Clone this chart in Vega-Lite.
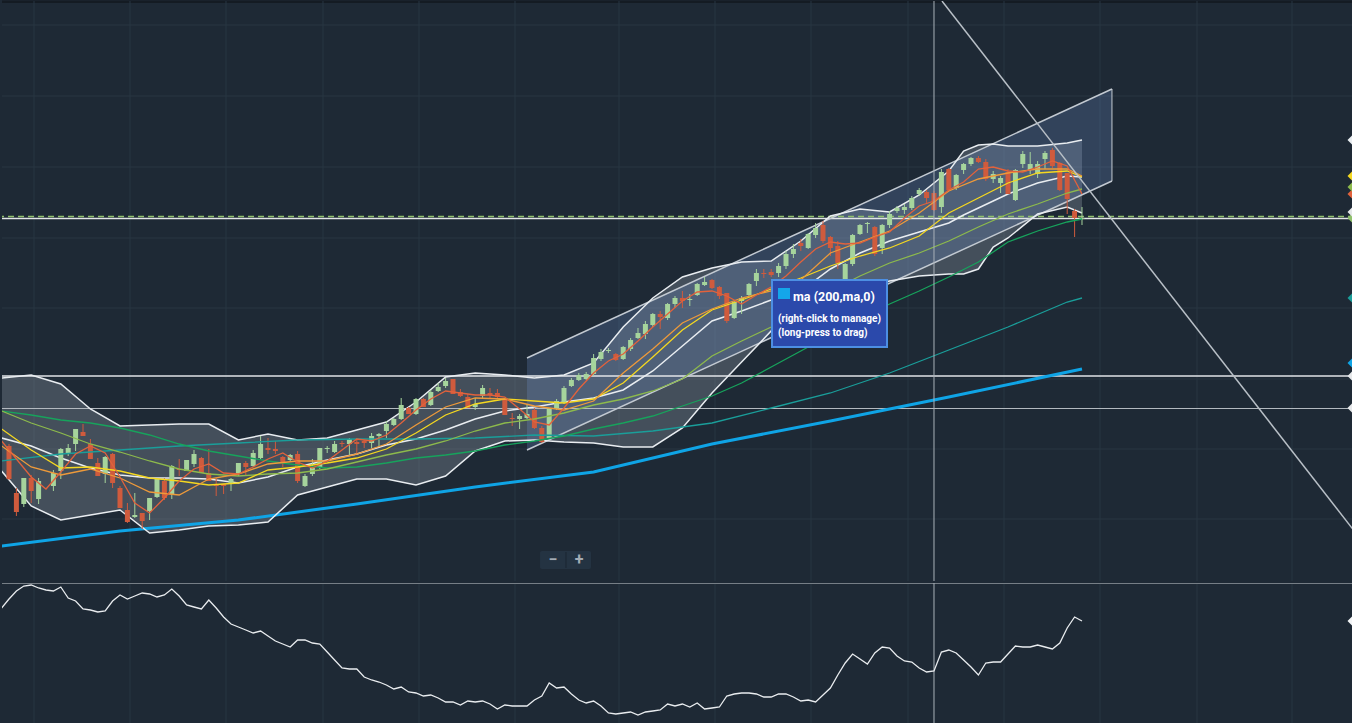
{
"$schema": "https://vega.github.io/schema/vega-lite/v6.json",
"background": "#1e2935",
"padding": 0,
"spacing": 0,
"config": {"view": {"stroke": null}, "scale": {"continuousPadding": 0}},
"datasets": {
"vgrid": [{"b":3.378},{"b":16.351},{"b":29.324},{"b":42.432},{"b":55.405},{"b":68.378},{"b":82.432},{"b":95.405},{"b":108.378},{"b":121.486},{"b":134.459},{"b":147.432},{"b":160.541},{"b":173.378}],
"hgrid": [{"p":576},{"p":505},{"p":434},{"p":363},{"p":293},{"p":222},{"p":152},{"p":82}],
"chan": [{"b":70,"lo":151,"up":243},{"b":149.05,"lo":420,"up":512}],
"bb": [
{"b":-1,"up":223,"mid":163,"lo":130},{"b":3,"up":226,"mid":155,"lo":95},{"b":7,"up":217,"mid":143,"lo":81},{"b":11,"up":192,"mid":133,"lo":86},{"b":15,"up":175,"mid":126,"lo":91},{"b":19,"up":176,"mid":123,"lo":68},{"b":23,"up":177,"mid":123,"lo":71},{"b":27,"up":177,"mid":122,"lo":75},{"b":31,"up":161,"mid":118,"lo":76},{"b":35,"up":167,"mid":124,"lo":79},{"b":39,"up":161,"mid":134,"lo":106},{"b":43,"up":163,"mid":141,"lo":114},{"b":47,"up":171,"mid":147,"lo":122},{"b":51,"up":179,"mid":156,"lo":122},{"b":55,"up":199,"mid":162,"lo":116},{"b":59,"up":224,"mid":171,"lo":125},{"b":63,"up":228,"mid":182,"lo":150},{"b":67,"up":226,"mid":190,"lo":160},{"b":71,"up":223,"mid":194,"lo":161},{"b":75,"up":226,"mid":199,"lo":159},{"b":79,"up":238,"mid":203,"lo":158},{"b":83,"up":274,"mid":211,"lo":154},{"b":87,"up":303,"mid":230,"lo":154},{"b":91,"up":324,"mid":255,"lo":173},{"b":95,"up":333,"mid":280,"lo":208},{"b":99,"up":339,"mid":290,"lo":239},{"b":103,"up":340,"mid":301,"lo":270},{"b":107,"up":360,"mid":310,"lo":283},{"b":111,"up":385,"mid":332,"lo":299},{"b":115,"up":392,"mid":348,"lo":311},{"b":119,"up":389,"mid":360,"lo":320},{"b":123,"up":406,"mid":369,"lo":325},{"b":127,"up":430,"mid":378,"lo":327},{"b":129,"up":450,"mid":386,"lo":327},{"b":131,"up":456,"mid":393,"lo":332},{"b":133,"up":457,"mid":400,"lo":354},{"b":135,"up":455,"mid":407,"lo":363},{"b":139,"up":455,"mid":418,"lo":387},{"b":143,"up":458,"mid":425,"lo":394},{"b":145,"up":461,"mid":424,"lo":388}],
"blue": [{"b":-1,"p":55},{"b":15,"p":70},{"b":31,"p":81},{"b":47,"p":97},{"b":63,"p":114},{"b":79,"p":129},{"b":95,"p":157},{"b":111,"p":180},{"b":127,"p":204},{"b":145,"p":232}],
"ma": [
{"s":"ma150","b":-1,"p":140},{"s":"ma150","b":7,"p":147},{"s":"ma150","b":15,"p":151},{"s":"ma150","b":23,"p":155},{"s":"ma150","b":31,"p":158},{"s":"ma150","b":39,"p":161},{"s":"ma150","b":47,"p":162},{"s":"ma150","b":55,"p":162},{"s":"ma150","b":63,"p":163},{"s":"ma150","b":71,"p":166},{"s":"ma150","b":79,"p":165},{"s":"ma150","b":87,"p":170},{"s":"ma150","b":95,"p":178},{"s":"ma150","b":103,"p":193},{"s":"ma150","b":111,"p":208},{"s":"ma150","b":119,"p":228},{"s":"ma150","b":127,"p":251},{"s":"ma150","b":135,"p":274},{"s":"ma150","b":143,"p":299},{"s":"ma150","b":145,"p":303},
{"s":"ma100","b":-1,"p":190},{"s":"ma100","b":3,"p":186},{"s":"ma100","b":7,"p":181},{"s":"ma100","b":11,"p":178},{"s":"ma100","b":15,"p":173},{"s":"ma100","b":19,"p":166},{"s":"ma100","b":23,"p":157},{"s":"ma100","b":27,"p":150},{"s":"ma100","b":31,"p":145},{"s":"ma100","b":35,"p":140},{"s":"ma100","b":39,"p":136},{"s":"ma100","b":43,"p":133},{"s":"ma100","b":47,"p":134},{"s":"ma100","b":51,"p":138},{"s":"ma100","b":55,"p":143},{"s":"ma100","b":59,"p":146},{"s":"ma100","b":63,"p":150},{"s":"ma100","b":67,"p":156},{"s":"ma100","b":71,"p":160},{"s":"ma100","b":75,"p":165},{"s":"ma100","b":79,"p":172},{"s":"ma100","b":83,"p":178},{"s":"ma100","b":87,"p":185},{"s":"ma100","b":91,"p":195},{"s":"ma100","b":95,"p":205},{"s":"ma100","b":99,"p":218},{"s":"ma100","b":103,"p":234},{"s":"ma100","b":107,"p":250},{"s":"ma100","b":111,"p":266},{"s":"ma100","b":115,"p":282},{"s":"ma100","b":119,"p":297},{"s":"ma100","b":123,"p":310},{"s":"ma100","b":127,"p":324},{"s":"ma100","b":131,"p":339},{"s":"ma100","b":135,"p":359},{"s":"ma100","b":139,"p":370},{"s":"ma100","b":143,"p":379},{"s":"ma100","b":145,"p":382},
{"s":"ma50","b":-1,"p":190},{"s":"ma50","b":3,"p":178},{"s":"ma50","b":7,"p":168},{"s":"ma50","b":11,"p":157},{"s":"ma50","b":15,"p":149},{"s":"ma50","b":19,"p":140},{"s":"ma50","b":23,"p":132},{"s":"ma50","b":27,"p":127},{"s":"ma50","b":31,"p":125},{"s":"ma50","b":35,"p":127},{"s":"ma50","b":39,"p":128},{"s":"ma50","b":43,"p":132},{"s":"ma50","b":47,"p":139},{"s":"ma50","b":51,"p":146},{"s":"ma50","b":55,"p":152},{"s":"ma50","b":59,"p":160},{"s":"ma50","b":63,"p":170},{"s":"ma50","b":67,"p":178},{"s":"ma50","b":71,"p":182},{"s":"ma50","b":75,"p":188},{"s":"ma50","b":79,"p":196},{"s":"ma50","b":83,"p":202},{"s":"ma50","b":87,"p":210},{"s":"ma50","b":91,"p":222},{"s":"ma50","b":95,"p":245},{"s":"ma50","b":99,"p":260},{"s":"ma50","b":103,"p":274},{"s":"ma50","b":107,"p":290},{"s":"ma50","b":111,"p":310},{"s":"ma50","b":115,"p":325},{"s":"ma50","b":119,"p":338},{"s":"ma50","b":123,"p":348},{"s":"ma50","b":127,"p":360},{"s":"ma50","b":131,"p":374},{"s":"ma50","b":135,"p":387},{"s":"ma50","b":139,"p":397},{"s":"ma50","b":143,"p":408},{"s":"ma50","b":145,"p":412},
{"s":"ma20","b":-1,"p":172},{"s":"ma20","b":3,"p":151},{"s":"ma20","b":7,"p":133},{"s":"ma20","b":11,"p":134},{"s":"ma20","b":15,"p":130},{"s":"ma20","b":19,"p":123},{"s":"ma20","b":23,"p":120},{"s":"ma20","b":27,"p":116},{"s":"ma20","b":31,"p":118},{"s":"ma20","b":35,"p":131},{"s":"ma20","b":39,"p":134},{"s":"ma20","b":43,"p":138},{"s":"ma20","b":47,"p":143},{"s":"ma20","b":51,"p":152},{"s":"ma20","b":55,"p":168},{"s":"ma20","b":59,"p":186},{"s":"ma20","b":63,"p":197},{"s":"ma20","b":67,"p":202},{"s":"ma20","b":71,"p":200},{"s":"ma20","b":75,"p":198},{"s":"ma20","b":79,"p":202},{"s":"ma20","b":83,"p":218},{"s":"ma20","b":87,"p":244},{"s":"ma20","b":91,"p":271},{"s":"ma20","b":95,"p":291},{"s":"ma20","b":99,"p":301},{"s":"ma20","b":103,"p":312},{"s":"ma20","b":107,"p":323},{"s":"ma20","b":111,"p":335},{"s":"ma20","b":115,"p":345},{"s":"ma20","b":119,"p":353},{"s":"ma20","b":123,"p":365},{"s":"ma20","b":127,"p":388},{"s":"ma20","b":131,"p":403},{"s":"ma20","b":135,"p":418},{"s":"ma20","b":139,"p":428},{"s":"ma20","b":143,"p":430},{"s":"ma20","b":145,"p":424},
{"s":"ma10","b":-1,"p":155},{"s":"ma10","b":3,"p":134},{"s":"ma10","b":7,"p":126},{"s":"ma10","b":11,"p":132},{"s":"ma10","b":15,"p":123},{"s":"ma10","b":19,"p":109},{"s":"ma10","b":23,"p":106},{"s":"ma10","b":27,"p":122},{"s":"ma10","b":31,"p":127},{"s":"ma10","b":35,"p":137},{"s":"ma10","b":39,"p":140},{"s":"ma10","b":43,"p":140},{"s":"ma10","b":47,"p":147},{"s":"ma10","b":51,"p":157},{"s":"ma10","b":55,"p":176},{"s":"ma10","b":59,"p":194},{"s":"ma10","b":63,"p":203},{"s":"ma10","b":67,"p":202},{"s":"ma10","b":71,"p":195},{"s":"ma10","b":75,"p":191},{"s":"ma10","b":79,"p":200},{"s":"ma10","b":83,"p":228},{"s":"ma10","b":87,"p":252},{"s":"ma10","b":91,"p":278},{"s":"ma10","b":95,"p":292},{"s":"ma10","b":99,"p":303},{"s":"ma10","b":103,"p":310},{"s":"ma10","b":107,"p":321},{"s":"ma10","b":111,"p":348},{"s":"ma10","b":115,"p":359},{"s":"ma10","b":119,"p":370},{"s":"ma10","b":123,"p":388},{"s":"ma10","b":127,"p":410},{"s":"ma10","b":131,"p":422},{"s":"ma10","b":135,"p":428},{"s":"ma10","b":139,"p":432},{"s":"ma10","b":143,"p":432},{"s":"ma10","b":145,"p":425},
{"s":"ma5","b":-1,"p":160},{"s":"ma5","b":1,"p":142},{"s":"ma5","b":3,"p":124},{"s":"ma5","b":5,"p":112},{"s":"ma5","b":7,"p":129},{"s":"ma5","b":9,"p":147},{"s":"ma5","b":11,"p":155},{"s":"ma5","b":13,"p":148},{"s":"ma5","b":15,"p":124},{"s":"ma5","b":17,"p":98},{"s":"ma5","b":19,"p":88},{"s":"ma5","b":21,"p":103},{"s":"ma5","b":23,"p":120},{"s":"ma5","b":25,"p":132},{"s":"ma5","b":27,"p":137},{"s":"ma5","b":29,"p":128},{"s":"ma5","b":31,"p":127},{"s":"ma5","b":33,"p":134},{"s":"ma5","b":35,"p":142},{"s":"ma5","b":37,"p":148},{"s":"ma5","b":39,"p":139},{"s":"ma5","b":41,"p":133},{"s":"ma5","b":43,"p":140},{"s":"ma5","b":45,"p":151},{"s":"ma5","b":47,"p":162},{"s":"ma5","b":49,"p":160},{"s":"ma5","b":51,"p":166},{"s":"ma5","b":53,"p":178},{"s":"ma5","b":55,"p":191},{"s":"ma5","b":57,"p":202},{"s":"ma5","b":59,"p":210},{"s":"ma5","b":61,"p":208},{"s":"ma5","b":63,"p":206},{"s":"ma5","b":65,"p":206},{"s":"ma5","b":67,"p":204},{"s":"ma5","b":69,"p":192},{"s":"ma5","b":71,"p":179},{"s":"ma5","b":73,"p":176},{"s":"ma5","b":75,"p":193},{"s":"ma5","b":77,"p":212},{"s":"ma5","b":79,"p":228},{"s":"ma5","b":81,"p":240},{"s":"ma5","b":83,"p":247},{"s":"ma5","b":85,"p":260},{"s":"ma5","b":87,"p":274},{"s":"ma5","b":89,"p":287},{"s":"ma5","b":91,"p":300},{"s":"ma5","b":93,"p":309},{"s":"ma5","b":95,"p":310},{"s":"ma5","b":97,"p":305},{"s":"ma5","b":99,"p":297},{"s":"ma5","b":101,"p":306},{"s":"ma5","b":103,"p":314},{"s":"ma5","b":105,"p":325},{"s":"ma5","b":107,"p":339},{"s":"ma5","b":109,"p":352},{"s":"ma5","b":111,"p":359},{"s":"ma5","b":113,"p":357},{"s":"ma5","b":115,"p":358},{"s":"ma5","b":117,"p":364},{"s":"ma5","b":119,"p":369},{"s":"ma5","b":121,"p":383},{"s":"ma5","b":123,"p":395},{"s":"ma5","b":125,"p":400},{"s":"ma5","b":127,"p":411},{"s":"ma5","b":129,"p":419},{"s":"ma5","b":131,"p":432},{"s":"ma5","b":133,"p":434},{"s":"ma5","b":135,"p":430},{"s":"ma5","b":137,"p":429},{"s":"ma5","b":139,"p":434},{"s":"ma5","b":141,"p":440},{"s":"ma5","b":143,"p":435},{"s":"ma5","b":145,"p":407}],
"candles": [
{"b":0,"o":155,"h":157,"l":121,"c":122},{"b":1,"o":108,"h":113,"l":85,"c":89},{"b":2,"o":97,"h":123,"l":94,"c":123},{"b":3,"o":123,"h":126,"l":98,"c":110},{"b":4,"o":102,"h":123,"l":97,"c":120},{"b":6,"o":115,"h":131,"l":110,"c":128},{"b":7,"o":130,"h":153,"l":122,"c":152},{"b":8,"o":147,"h":157,"l":145,"c":153},{"b":9,"o":157,"h":172,"l":150,"c":172},{"b":10,"o":169,"h":177,"l":165,"c":165},
{"b":11,"o":157,"h":162,"l":142,"c":142},{"b":12,"o":138,"h":143,"l":125,"c":125},{"b":13,"o":127,"h":145,"l":118,"c":144},{"b":14,"o":147,"h":148,"l":113,"c":118},{"b":15,"o":113,"h":115,"l":93,"c":93},{"b":16,"o":91,"h":98,"l":78,"c":79},{"b":17,"o":84,"h":108,"l":83,"c":86},{"b":18,"o":88,"h":88,"l":72,"c":80},{"b":19,"o":90,"h":103,"l":81,"c":103},{"b":20,"o":104,"h":123,"l":103,"c":122},
{"b":21,"o":120,"h":123,"l":101,"c":103},{"b":22,"o":107,"h":136,"l":102,"c":135},{"b":23,"o":132,"h":142,"l":125,"c":131},{"b":24,"o":130,"h":141,"l":130,"c":141},{"b":25,"o":137,"h":151,"l":134,"c":147},{"b":26,"o":143,"h":144,"l":128,"c":128},{"b":27,"o":128,"h":152,"l":120,"c":120},{"b":28,"o":117,"h":123,"l":105,"c":115},{"b":29,"o":117,"h":117,"l":107,"c":115},{"b":30,"o":118,"h":123,"l":110,"c":122},
{"b":31,"o":127,"h":138,"l":125,"c":138},{"b":32,"o":138,"h":140,"l":125,"c":134},{"b":33,"o":135,"h":151,"l":134,"c":148},{"b":34,"o":143,"h":165,"l":142,"c":157},{"b":35,"o":153,"h":163,"l":147,"c":151},{"b":36,"o":152,"h":160,"l":147,"c":150},{"b":37,"o":144,"h":145,"l":134,"c":138},{"b":38,"o":141,"h":147,"l":140,"c":146},{"b":39,"o":147,"h":150,"l":118,"c":120},{"b":40,"o":115,"h":127,"l":114,"c":125},
{"b":41,"o":127,"h":142,"l":125,"c":133},{"b":42,"o":134,"h":153,"l":132,"c":153},{"b":43,"o":152,"h":155,"l":148,"c":153},{"b":44,"o":149,"h":160,"l":148,"c":157},{"b":45,"o":158,"h":160,"l":154,"c":157},{"b":46,"o":157,"h":163,"l":145,"c":162},{"b":47,"o":159,"h":163,"l":147,"c":157},{"b":48,"o":160,"h":161,"l":153,"c":158},{"b":49,"o":158,"h":168,"l":153,"c":165},{"b":50,"o":165,"h":168,"l":155,"c":167},
{"b":51,"o":170,"h":180,"l":163,"c":177},{"b":52,"o":176,"h":183,"l":175,"c":182},{"b":53,"o":182,"h":203,"l":181,"c":196},{"b":54,"o":193,"h":194,"l":187,"c":187},{"b":55,"o":187,"h":203,"l":186,"c":202},{"b":56,"o":202,"h":203,"l":194,"c":194},{"b":57,"o":196,"h":211,"l":195,"c":209},{"b":58,"o":210,"h":218,"l":209,"c":214},{"b":59,"o":215,"h":223,"l":213,"c":220},{"b":60,"o":222,"h":222,"l":207,"c":207},
{"b":61,"o":209,"h":212,"l":204,"c":205},{"b":62,"o":204,"h":207,"l":193,"c":193},{"b":63,"o":194,"h":203,"l":191,"c":197},{"b":64,"o":205,"h":216,"l":203,"c":213},{"b":65,"o":208,"h":213,"l":203,"c":206},{"b":66,"o":208,"h":212,"l":202,"c":204},{"b":67,"o":201,"h":201,"l":186,"c":186},{"b":68,"o":183,"h":188,"l":175,"c":182},{"b":69,"o":182,"h":187,"l":172,"c":185},{"b":70,"o":183,"h":197,"l":182,"c":187},
{"b":71,"o":191,"h":193,"l":172,"c":173},{"b":72,"o":173,"h":175,"l":158,"c":159},{"b":73,"o":163,"h":193,"l":162,"c":193},{"b":74,"o":192,"h":202,"l":191,"c":200},{"b":75,"o":198,"h":215,"l":197,"c":213},{"b":76,"o":215,"h":223,"l":214,"c":221},{"b":77,"o":221,"h":228,"l":220,"c":226},{"b":78,"o":222,"h":229,"l":221,"c":227},{"b":79,"o":227,"h":247,"l":225,"c":243},{"b":80,"o":242,"h":252,"l":240,"c":249},
{"b":81,"o":250,"h":253,"l":248,"c":251},{"b":82,"o":247,"h":248,"l":240,"c":241},{"b":83,"o":242,"h":255,"l":241,"c":254},{"b":84,"o":252,"h":263,"l":250,"c":261},{"b":85,"o":263,"h":273,"l":262,"c":268},{"b":86,"o":267,"h":280,"l":262,"c":277},{"b":87,"o":276,"h":288,"l":274,"c":287},{"b":88,"o":287,"h":290,"l":272,"c":284},{"b":89,"o":283,"h":298,"l":281,"c":297},{"b":90,"o":297,"h":305,"l":293,"c":303},
{"b":91,"o":303,"h":310,"l":293,"c":300},{"b":92,"o":301,"h":307,"l":295,"c":302},{"b":93,"o":306,"h":318,"l":305,"c":317},{"b":94,"o":316,"h":324,"l":315,"c":319},{"b":95,"o":321,"h":322,"l":312,"c":313},{"b":96,"o":314,"h":315,"l":302,"c":305},{"b":97,"o":308,"h":308,"l":278,"c":280},{"b":98,"o":283,"h":300,"l":282,"c":299},{"b":99,"o":300,"h":305,"l":287,"c":303},{"b":100,"o":306,"h":318,"l":305,"c":317},
{"b":101,"o":320,"h":332,"l":315,"c":328},{"b":102,"o":328,"h":332,"l":323,"c":327},{"b":103,"o":329,"h":332,"l":324,"c":326},{"b":104,"o":328,"h":338,"l":324,"c":335},{"b":105,"o":335,"h":350,"l":332,"c":347},{"b":106,"o":347,"h":357,"l":343,"c":352},{"b":107,"o":358,"h":362,"l":350,"c":355},{"b":108,"o":353,"h":368,"l":352,"c":367},{"b":109,"o":366,"h":378,"l":363,"c":373},{"b":110,"o":376,"h":380,"l":358,"c":360},
{"b":111,"o":364,"h":365,"l":345,"c":353},{"b":112,"o":355,"h":360,"l":332,"c":338},{"b":113,"o":317,"h":338,"l":313,"c":337},{"b":114,"o":337,"h":367,"l":335,"c":366},{"b":115,"o":367,"h":377,"l":366,"c":376},{"b":116,"o":377,"h":379,"l":368,"c":378},{"b":117,"o":374,"h":375,"l":345,"c":347},{"b":118,"o":353,"h":377,"l":347,"c":376},{"b":119,"o":376,"h":390,"l":373,"c":387},{"b":120,"o":390,"h":395,"l":388,"c":393},
{"b":121,"o":391,"h":397,"l":387,"c":394},{"b":122,"o":393,"h":405,"l":391,"c":403},{"b":123,"o":407,"h":413,"l":405,"c":411},{"b":124,"o":409,"h":411,"l":397,"c":403},{"b":125,"o":408,"h":410,"l":390,"c":391},{"b":126,"o":394,"h":432,"l":388,"c":429},{"b":127,"o":432,"h":433,"l":410,"c":411},{"b":128,"o":413,"h":427,"l":411,"c":426},{"b":129,"o":431,"h":438,"l":427,"c":437},{"b":130,"o":437,"h":444,"l":435,"c":443},
{"b":131,"o":443,"h":445,"l":438,"c":439},{"b":132,"o":439,"h":442,"l":420,"c":422},{"b":133,"o":422,"h":430,"l":418,"c":427},{"b":134,"o":418,"h":425,"l":408,"c":423},{"b":135,"o":429,"h":432,"l":407,"c":407},{"b":136,"o":401,"h":432,"l":400,"c":431},{"b":137,"o":437,"h":450,"l":433,"c":447},{"b":138,"o":431,"h":449,"l":427,"c":437},{"b":139,"o":427,"h":440,"l":423,"c":437},{"b":140,"o":442,"h":450,"l":432,"c":448},
{"b":141,"o":451,"h":453,"l":433,"c":435},{"b":142,"o":438,"h":439,"l":410,"c":411},{"b":143,"o":428,"h":428,"l":387,"c":402},{"b":144,"o":390,"h":392,"l":364,"c":383},{"b":145,"o":382,"h":394,"l":376,"c":383}],
"osc": [
{"b":-1,"v":118},{"b":0,"v":127},{"b":1,"v":135},{"b":2,"v":140},{"b":3,"v":141},{"b":4,"v":138},{"b":5,"v":136},{"b":6,"v":135},{"b":7,"v":139},{"b":8,"v":128},{"b":9,"v":125},{"b":10,"v":117},{"b":11,"v":116},{"b":12,"v":114},{"b":13,"v":115},{"b":14,"v":125},{"b":15,"v":131},{"b":16,"v":127},{"b":17,"v":130},{"b":18,"v":133},{"b":19,"v":132},{"b":20,"v":129},{"b":21,"v":131},{"b":22,"v":137},{"b":23,"v":130},{"b":24,"v":121},{"b":25,"v":119},{"b":26,"v":117},{"b":27,"v":126},{"b":28,"v":118},{"b":29,"v":109},{"b":30,"v":102},{"b":31,"v":99},{"b":32,"v":96},{"b":33,"v":93},{"b":34,"v":95},{"b":35,"v":90},{"b":36,"v":85},{"b":37,"v":82},{"b":38,"v":79},{"b":39,"v":86},{"b":40,"v":86},{"b":41,"v":83},{"b":42,"v":82},{"b":43,"v":74},{"b":44,"v":66},{"b":45,"v":58},{"b":46,"v":57},{"b":47,"v":57},{"b":48,"v":49},{"b":49,"v":46},{"b":50,"v":44},{"b":51,"v":41},{"b":52,"v":37},{"b":53,"v":39},{"b":54,"v":34},{"b":55,"v":33},{"b":56,"v":30},{"b":57,"v":31},{"b":58,"v":28},{"b":59,"v":24},{"b":60,"v":24},{"b":61,"v":21},{"b":62,"v":25},{"b":63,"v":24},{"b":64,"v":25},{"b":65,"v":22},{"b":66,"v":17},{"b":67,"v":21},{"b":68,"v":20},{"b":69,"v":20},{"b":70,"v":20},{"b":71,"v":26},{"b":72,"v":30},{"b":73,"v":43},{"b":74,"v":38},{"b":75,"v":39},{"b":76,"v":32},{"b":77,"v":26},{"b":78,"v":23},{"b":79,"v":25},{"b":80,"v":20},{"b":81,"v":13},{"b":82,"v":12},{"b":83,"v":13},{"b":84,"v":14},{"b":85,"v":11},{"b":86,"v":14},{"b":87,"v":15},{"b":88,"v":16},{"b":89,"v":22},{"b":90,"v":20},{"b":91,"v":22},{"b":92,"v":19},{"b":93,"v":23},{"b":94,"v":17},{"b":95,"v":18},{"b":96,"v":19},{"b":97,"v":30},{"b":98,"v":32},{"b":99,"v":33},{"b":100,"v":33},{"b":101,"v":32},{"b":102,"v":29},{"b":103,"v":29},{"b":104,"v":32},{"b":105,"v":32},{"b":106,"v":29},{"b":107,"v":25},{"b":108,"v":26},{"b":109,"v":24},{"b":110,"v":31},{"b":111,"v":38},{"b":112,"v":51},{"b":113,"v":63},{"b":114,"v":72},{"b":115,"v":67},{"b":116,"v":62},{"b":117,"v":73},{"b":118,"v":79},{"b":119,"v":78},{"b":120,"v":70},{"b":121,"v":65},{"b":122,"v":64},{"b":123,"v":58},{"b":124,"v":54},{"b":125,"v":55},{"b":126,"v":74},{"b":127,"v":76},{"b":128,"v":73},{"b":129,"v":66},{"b":130,"v":59},{"b":131,"v":51},{"b":132,"v":63},{"b":133,"v":64},{"b":134,"v":64},{"b":135,"v":72},{"b":136,"v":80},{"b":137,"v":79},{"b":138,"v":79},{"b":139,"v":81},{"b":140,"v":79},{"b":141,"v":77},{"b":142,"v":83},{"b":143,"v":98},{"b":144,"v":109},{"b":145,"v":105}],
"marks": [{"s":"ma5","p":407},{"s":"ma50","p":414},{"s":"ma20","p":425},{"s":"bb","p":461},{"s":"last","p":383},{"s":"hl","p":389},{"s":"ma150","p":303},{"s":"ma200","p":238},{"s":"hl","p":225},{"s":"hl","p":193}]
},
"vconcat": [
{
"width": 1352, "height": 580,
"layer": [
{"data":{"values":[{"p":599.2}]},"mark":{"type":"rule","color":"#141b23","strokeWidth":2.5},"encoding":{"y":{"field":"p","type":"quantitative","scale":{"domain":[20,600],"nice":false,"zero":false,"padding":0},"axis":null}}},
{"data":{"name":"vgrid"},"mark":{"type":"rule","color":"#283643","strokeWidth":1},"encoding":{"x":{"field":"b","type":"quantitative","scale":{"domain":[-0.946,181.757],"nice":false,"zero":false,"padding":0},"axis":null}}},
{"data":{"name":"hgrid"},"mark":{"type":"rule","color":"#283643","strokeWidth":1},"encoding":{"y":{"field":"p","type":"quantitative","scale":{"domain":[20,600],"nice":false,"zero":false,"padding":0},"axis":null}}},
{"data":{"name":"bb"},"mark":{"type":"area","color":"#a9b4bf","opacity":0.28,"clip":true},"encoding":{"x":{"field":"b","type":"quantitative","scale":{"domain":[-0.946,181.757],"nice":false,"zero":false,"padding":0},"axis":null},"y":{"field":"lo","type":"quantitative","scale":{"domain":[20,600],"nice":false,"zero":false,"padding":0},"axis":null},"y2":{"field":"up"}}},
{"data":{"name":"chan"},"mark":{"type":"area","color":"#6e95d1","opacity":0.25,"clip":true},"encoding":{"x":{"field":"b","type":"quantitative","scale":{"domain":[-0.946,181.757],"nice":false,"zero":false,"padding":0},"axis":null},"y":{"field":"lo","type":"quantitative","scale":{"domain":[20,600],"nice":false,"zero":false,"padding":0},"axis":null},"y2":{"field":"up"}}},
{"data":{"values":[{"p":225},{"p":382.5}]},"mark":{"type":"rule","color":"#e2e5e8","strokeWidth":1.3},"encoding":{"y":{"field":"p","type":"quantitative","scale":{"domain":[20,600],"nice":false,"zero":false,"padding":0},"axis":null}}},
{"data":{"values":[{"p":192.5}]},"mark":{"type":"rule","color":"#b3b9bf","strokeWidth":1},"encoding":{"y":{"field":"p","type":"quantitative","scale":{"domain":[20,600],"nice":false,"zero":false,"padding":0},"axis":null}}},
{"data":{"values":[{"p":384.5}]},"mark":{"type":"rule","color":"#8fc06c","strokeWidth":1.5,"strokeDash":[6,4]},"encoding":{"y":{"field":"p","type":"quantitative","scale":{"domain":[20,600],"nice":false,"zero":false,"padding":0},"axis":null}}},
{"data":{"values":[{"s":"top","b":70,"p":243},{"s":"top","b":149.05,"p":512},{"s":"bot","b":70,"p":151},{"s":"bot","b":149.05,"p":420}]},"mark":{"type":"line","color":"#c3cad2","strokeWidth":1.5,"clip":true},"encoding":{"x":{"field":"b","type":"quantitative","scale":{"domain":[-0.946,181.757],"nice":false,"zero":false,"padding":0},"axis":null},"y":{"field":"p","type":"quantitative","scale":{"domain":[20,600],"nice":false,"zero":false,"padding":0},"axis":null},"detail":{"field":"s","type":"nominal"}}},
{"data":{"name":"chan"},"transform":[{"filter":"datum.b > 100"}],"mark":{"type":"rule","color":"#c3cad2","strokeWidth":1},"encoding":{"x":{"field":"b","type":"quantitative","scale":{"domain":[-0.946,181.757],"nice":false,"zero":false,"padding":0},"axis":null},"y":{"field":"lo","type":"quantitative","scale":{"domain":[20,600],"nice":false,"zero":false,"padding":0},"axis":null},"y2":{"field":"up"}}},
{"data":{"name":"blue"},"mark":{"type":"line","color":"#0fa4e6","strokeWidth":3,"clip":true},"encoding":{"x":{"field":"b","type":"quantitative","scale":{"domain":[-0.946,181.757],"nice":false,"zero":false,"padding":0},"axis":null},"y":{"field":"p","type":"quantitative","scale":{"domain":[20,600],"nice":false,"zero":false,"padding":0},"axis":null}}},
{"data":{"name":"bb"},"mark":{"type":"line","color":"#e9edf1","strokeWidth":1.5,"clip":true},"encoding":{"x":{"field":"b","type":"quantitative","scale":{"domain":[-0.946,181.757],"nice":false,"zero":false,"padding":0},"axis":null},"y":{"field":"up","type":"quantitative","scale":{"domain":[20,600],"nice":false,"zero":false,"padding":0},"axis":null}}},
{"data":{"name":"bb"},"mark":{"type":"line","color":"#e9edf1","strokeWidth":1.5,"clip":true},"encoding":{"x":{"field":"b","type":"quantitative","scale":{"domain":[-0.946,181.757],"nice":false,"zero":false,"padding":0},"axis":null},"y":{"field":"mid","type":"quantitative","scale":{"domain":[20,600],"nice":false,"zero":false,"padding":0},"axis":null}}},
{"data":{"name":"bb"},"mark":{"type":"line","color":"#e9edf1","strokeWidth":1.5,"clip":true},"encoding":{"x":{"field":"b","type":"quantitative","scale":{"domain":[-0.946,181.757],"nice":false,"zero":false,"padding":0},"axis":null},"y":{"field":"lo","type":"quantitative","scale":{"domain":[20,600],"nice":false,"zero":false,"padding":0},"axis":null}}},
{"data":{"name":"candles"},"mark":{"type":"rule","strokeWidth":1,"clip":true},"encoding":{"x":{"field":"b","type":"quantitative","scale":{"domain":[-0.946,181.757],"nice":false,"zero":false,"padding":0},"axis":null},"y":{"field":"l","type":"quantitative","scale":{"domain":[20,600],"nice":false,"zero":false,"padding":0},"axis":null},"y2":{"field":"h"},"color":{"condition":{"test":"datum.c >= datum.o","value":"#a6d49c"},"value":"#cf5b3d"}}},
{"data":{"name":"candles"},"mark":{"type":"bar","size":5,"clip":true},"encoding":{"x":{"field":"b","type":"quantitative","scale":{"domain":[-0.946,181.757],"nice":false,"zero":false,"padding":0},"axis":null},"y":{"field":"o","type":"quantitative","scale":{"domain":[20,600],"nice":false,"zero":false,"padding":0},"axis":null},"y2":{"field":"c"},"color":{"condition":{"test":"datum.c >= datum.o","value":"#a6d49c"},"value":"#cf5b3d"}}},
{"data":{"name":"ma"},"mark":{"type":"line","strokeWidth":1.3,"clip":true},"encoding":{"x":{"field":"b","type":"quantitative","scale":{"domain":[-0.946,181.757],"nice":false,"zero":false,"padding":0},"axis":null},"y":{"field":"p","type":"quantitative","scale":{"domain":[20,600],"nice":false,"zero":false,"padding":0},"axis":null},"color":{"field":"s","type":"nominal","scale":{"domain":["bb","ma5","ma10","ma20","ma50","ma100","ma150","ma200","hl","last"],"range":["#e9edf1","#e2623c","#ee9a3a","#f5d820","#8dba4c","#17a35c","#1a9e9a","#0fa4e6","#e6e8ea","#8fc06c"]},"legend":null}}},
{"data":{"values":[{"b":125}]},"mark":{"type":"rule","color":"#a9b1b9","strokeWidth":1},"encoding":{"x":{"field":"b","type":"quantitative","scale":{"domain":[-0.946,181.757],"nice":false,"zero":false,"padding":0},"axis":null}}},
{"data":{"values":[{"b":126.08,"p":600},{"b":182.84,"p":60}]},"mark":{"type":"line","color":"#b9c0c7","strokeWidth":1.5,"clip":true},"encoding":{"x":{"field":"b","type":"quantitative","scale":{"domain":[-0.946,181.757],"nice":false,"zero":false,"padding":0},"axis":null},"y":{"field":"p","type":"quantitative","scale":{"domain":[20,600],"nice":false,"zero":false,"padding":0},"axis":null}}},
{"data":{"name":"marks"},"mark":{"type":"point","shape":"diamond","filled":true,"opacity":1,"size":170},"encoding":{"x":{"datum":181.757,"type":"quantitative","scale":{"domain":[-0.946,181.757],"nice":false,"zero":false,"padding":0},"axis":null},"y":{"field":"p","type":"quantitative","scale":{"domain":[20,600],"nice":false,"zero":false,"padding":0},"axis":null},"color":{"field":"s","type":"nominal","scale":{"domain":["bb","ma5","ma10","ma20","ma50","ma100","ma150","ma200","hl","last"],"range":["#e9edf1","#e2623c","#ee9a3a","#f5d820","#8dba4c","#17a35c","#1a9e9a","#0fa4e6","#e6e8ea","#8fc06c"]},"legend":null}}},
{"data":{"values":[{"b1":103.11,"b2":118.65,"p1":254,"p2":321}]},"mark":{"type":"rect","fill":"#2b49ab","stroke":"#4d8fe3","strokeWidth":2},"encoding":{"x":{"field":"b1","type":"quantitative","scale":{"domain":[-0.946,181.757],"nice":false,"zero":false,"padding":0},"axis":null},"x2":{"field":"b2"},"y":{"field":"p1","type":"quantitative","scale":{"domain":[20,600],"nice":false,"zero":false,"padding":0},"axis":null},"y2":{"field":"p2"}}},
{"data":{"values":[{"b1":103.92,"b2":105.54,"p1":302,"p2":313}]},"mark":{"type":"rect","fill":"#14a6ea"},"encoding":{"x":{"field":"b1","type":"quantitative","scale":{"domain":[-0.946,181.757],"nice":false,"zero":false,"padding":0},"axis":null},"x2":{"field":"b2"},"y":{"field":"p1","type":"quantitative","scale":{"domain":[20,600],"nice":false,"zero":false,"padding":0},"axis":null},"y2":{"field":"p2"}}},
{"data":{"values":[{"b":105.95,"p":300,"t":"ma (200,ma,0)"}]},"mark":{"type":"text","align":"left","baseline":"alphabetic","font":"Roboto","fontWeight":"bold","fontSize":12.5,"color":"#ffffff"},"encoding":{"x":{"field":"b","type":"quantitative","scale":{"domain":[-0.946,181.757],"nice":false,"zero":false,"padding":0},"axis":null},"y":{"field":"p","type":"quantitative","scale":{"domain":[20,600],"nice":false,"zero":false,"padding":0},"axis":null},"text":{"field":"t"}}},
{"data":{"values":[{"b":103.92,"p":279,"t":"(right-click to manage)"},{"b":103.92,"p":265.5,"t":"(long-press to drag)"}]},"mark":{"type":"text","align":"left","baseline":"alphabetic","font":"Roboto","fontWeight":"bold","fontSize":10,"color":"#ffffff"},"encoding":{"x":{"field":"b","type":"quantitative","scale":{"domain":[-0.946,181.757],"nice":false,"zero":false,"padding":0},"axis":null},"y":{"field":"p","type":"quantitative","scale":{"domain":[20,600],"nice":false,"zero":false,"padding":0},"axis":null},"text":{"field":"t"}}},
{"data":{"values":[{"b1":71.76,"b2":78.65,"p1":32,"p2":50}]},"mark":{"type":"rect","fill":"#243342","cornerRadius":2},"encoding":{"x":{"field":"b1","type":"quantitative","scale":{"domain":[-0.946,181.757],"nice":false,"zero":false,"padding":0},"axis":null},"x2":{"field":"b2"},"y":{"field":"p1","type":"quantitative","scale":{"domain":[20,600],"nice":false,"zero":false,"padding":0},"axis":null},"y2":{"field":"p2"}}},
{"data":{"values":[{"b":75.27,"p1":33,"p2":49}]},"mark":{"type":"rule","color":"#1b2631","strokeWidth":1},"encoding":{"x":{"field":"b","type":"quantitative","scale":{"domain":[-0.946,181.757],"nice":false,"zero":false,"padding":0},"axis":null},"y":{"field":"p1","type":"quantitative","scale":{"domain":[20,600],"nice":false,"zero":false,"padding":0},"axis":null},"y2":{"field":"p2"}}},
{"data":{"values":[{"b":73.51,"p":41,"t":"−"},{"b":77.03,"p":41,"t":"+"}]},"mark":{"type":"text","align":"center","baseline":"middle","font":"Roboto","fontWeight":"bold","fontSize":16,"color":"#a3acb5"},"encoding":{"x":{"field":"b","type":"quantitative","scale":{"domain":[-0.946,181.757],"nice":false,"zero":false,"padding":0},"axis":null},"y":{"field":"p","type":"quantitative","scale":{"domain":[20,600],"nice":false,"zero":false,"padding":0},"axis":null},"text":{"field":"t"}}}
]
},
{
"width": 1352, "height": 143,
"layer": [
{"data":{"name":"vgrid"},"mark":{"type":"rule","color":"#283643","strokeWidth":1},"encoding":{"x":{"field":"b","type":"quantitative","scale":{"domain":[-0.946,181.757],"nice":false,"zero":false,"padding":0},"axis":null}}},
{"data":{"values":[{"v":142.5}]},"mark":{"type":"rule","color":"#767e86","strokeWidth":1},"encoding":{"y":{"field":"v","type":"quantitative","scale":{"domain":[0,143],"nice":false,"zero":false,"padding":0},"axis":null}}},
{"data":{"values":[{"b":125}]},"mark":{"type":"rule","color":"#a9b1b9","strokeWidth":1},"encoding":{"x":{"field":"b","type":"quantitative","scale":{"domain":[-0.946,181.757],"nice":false,"zero":false,"padding":0},"axis":null}}},
{"data":{"name":"osc"},"mark":{"type":"line","color":"#e9ecef","strokeWidth":1.3,"clip":true},"encoding":{"x":{"field":"b","type":"quantitative","scale":{"domain":[-0.946,181.757],"nice":false,"zero":false,"padding":0},"axis":null},"y":{"field":"v","type":"quantitative","scale":{"domain":[0,143],"nice":false,"zero":false,"padding":0},"axis":null}}},
{"data":{"values":[{"v":105}]},"mark":{"type":"point","shape":"diamond","filled":true,"opacity":1,"size":170,"color":"#f2f4f6"},"encoding":{"x":{"datum":181.757,"type":"quantitative","scale":{"domain":[-0.946,181.757],"nice":false,"zero":false,"padding":0},"axis":null},"y":{"field":"v","type":"quantitative","scale":{"domain":[0,143],"nice":false,"zero":false,"padding":0},"axis":null}}}
]
}
]
}
